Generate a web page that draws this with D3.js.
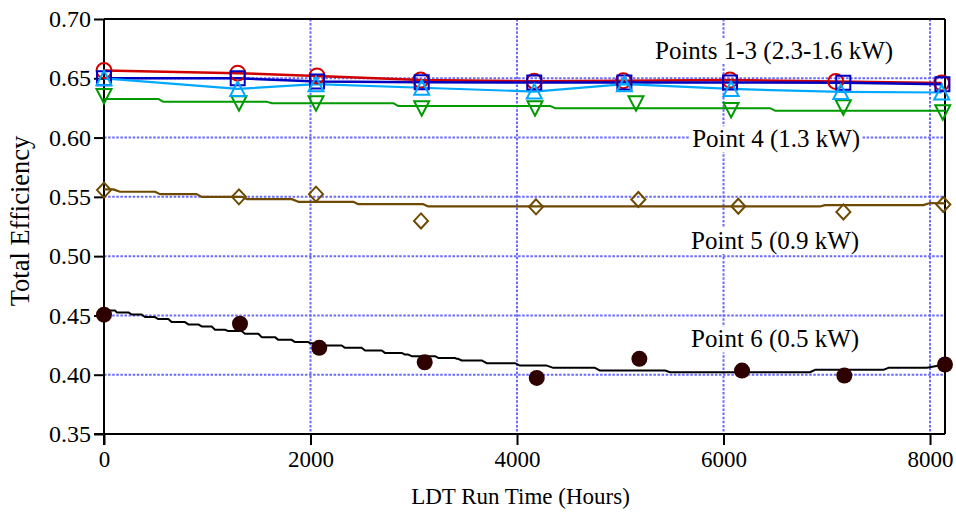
<!DOCTYPE html>
<html><head><meta charset="utf-8">
<script src="https://cdn.jsdelivr.net/npm/d3@7"></script>
<style>
html,body{margin:0;padding:0;background:#fff;}
svg{display:block;}
text{font-family:"Liberation Serif","Times New Roman",serif;fill:#000;}
</style></head>
<body>
<svg id="chart" width="956" height="514"></svg>
<script>
// ---------- data ----------
const xTicks = [0, 2000, 4000, 6000, 8000];
const yTicks = [0.35, 0.40, 0.45, 0.50, 0.55, 0.60, 0.65, 0.70];
const yGrid = [0.40, 0.45, 0.50, 0.55, 0.60, 0.65];
const xGrid = [2000, 4000, 6000, 8000];

// Points 1-3 (measured, connected)
const p1Times = [0, 1295, 2063, 3067, 4167, 5030, 6063, 7087, 8113];
const p1Values = [0.6565, 0.6543, 0.652, 0.6485, 0.6475, 0.648, 0.6485, 0.6473, 0.646];
const p2Times = [0, 1295, 2063, 3077, 4167, 5040, 6063, 7160, 8120];
const p2Values = [0.650, 0.650, 0.6473, 0.6467, 0.6465, 0.6465, 0.6465, 0.6462, 0.645];
const p3Times = [0, 1295, 2053, 3077, 4167, 5040, 6073, 7136, 8113];
const p3Values = [0.650, 0.641, 0.645, 0.642, 0.6388, 0.645, 0.641, 0.6385, 0.638];

// Point 4 measured + model
const p4Times = [0, 1307, 2053, 3077, 4174, 5152, 6073, 7160, 8123];
const p4Values = [0.635, 0.629, 0.629, 0.6248, 0.6248, 0.629, 0.6233, 0.6256, 0.6214];
const p4ModelTimes = [0, 526, 571, 1576, 1624, 2802, 2847, 4319, 4368, 6450, 6499, 8145];
const p4ModelValues = [0.6326, 0.6326, 0.6303, 0.6303, 0.629, 0.629, 0.6267, 0.6267, 0.6248, 0.6248, 0.6227, 0.6227];

// Point 5 measured + model
const p5Times = [0, 1307, 2053, 3070, 4184, 5175, 6143, 7161, 8129];
const p5Values = [0.5557, 0.550, 0.5523, 0.5297, 0.5416, 0.5478, 0.5421, 0.5373, 0.5436];
const p5ModelTimes = [0, 90, 155, 494, 542, 898, 946, 1334, 1382, 1818, 1882, 2414, 2463, 3092, 3141, 6934, 6983, 7935, 8000, 8145];
const p5ModelValues = [0.5563, 0.5563, 0.5543, 0.5543, 0.5523, 0.5523, 0.550, 0.550, 0.5481, 0.5481, 0.5458, 0.5458, 0.5438, 0.5438, 0.5419, 0.5419, 0.543, 0.543, 0.5448, 0.5445];

// Point 6 measured + model
const p6Times = [0, 1317, 2085, 3106, 4191, 5185, 6179, 7170, 8145];
const p6Values = [0.4506, 0.443, 0.4227, 0.4105, 0.3973, 0.4134, 0.4035, 0.3993, 0.4086];
const p6ModelTimes = [0,106,123,236,268,365,397,494,526,623,655,784,817,913,946,1043,1075,1172,1204,1333,1365,1495,1527,1656,1688,1817,1850,1979,1995,2108,2140,2302,2334,2495,2528,2689,2721,2883,2915,2947,2980,3205,3238,3399,3415,3431,3464,3657,3706,3980,4029,4288,4352,4755,4804,5434,5482,6838,6886,7548,7596,7968,8145];
const p6ModelValues = [0.4542,0.4542,0.4525,0.4525,0.4508,0.4508,0.4486,0.4486,0.4469,0.4469,0.4444,0.4444,0.4424,0.4424,0.4407,0.4407,0.4379,0.4379,0.4368,0.4368,0.4345,0.4345,0.4317,0.4317,0.4294,0.4294,0.4275,0.4275,0.4266,0.4266,0.4246,0.4246,0.4227,0.4227,0.4204,0.4204,0.4184,0.4184,0.4170,0.4170,0.4156,0.4156,0.4142,0.4142,0.4134,0.4134,0.4120,0.4120,0.4097,0.4097,0.4077,0.4077,0.4058,0.4058,0.4035,0.4035,0.4021,0.4021,0.4041,0.4041,0.4058,0.4058,0.4086];

const labelTexts = ["Points 1-3 (2.3-1.6 kW)", "Point 4 (1.3 kW)", "Point 5 (0.9 kW)", "Point 6 (0.5 kW)"];
const labelTimes = [6490, 6510, 6500, 6500];
const labelValues = [0.6663, 0.5918, 0.5060, 0.4230];

// ---------- layout ----------
const svg = d3.select("#chart");
const L = 104, R = 945, T = 19, B = 434;
const x = d3.scaleLinear().domain([0, 8145]).range([L, R]);
const y = d3.scaleLinear().domain([0.35, 0.70]).range([B, T]);

const gridColor = "#6a6aff";
const g = svg.append("g");

// grid
g.selectAll(".hg").data(yGrid).enter().append("line")
  .attr("x1", L).attr("x2", R).attr("y1", d => y(d)).attr("y2", d => y(d))
  .attr("stroke", gridColor).attr("stroke-width", 2).attr("stroke-dasharray", "2.5,1.6");
g.selectAll(".vg").data(xGrid).enter().append("line")
  .attr("y1", T).attr("y2", B).attr("x1", d => x(d)).attr("x2", d => x(d))
  .attr("stroke", gridColor).attr("stroke-width", 2).attr("stroke-dasharray", "2.5,1.6");

// labels with white background
const lab = g.selectAll(".lab").data(labelTexts).enter().append("g");
lab.append("text")
  .attr("x", (d, i) => x(labelTimes[i])).attr("y", (d, i) => y(labelValues[i]))
  .attr("text-anchor", "middle").attr("font-size", 25).text(d => d);
lab.each(function () {
  const t = d3.select(this).select("text");
  const bb = t.node().getBBox();
  d3.select(this).insert("rect", "text")
    .attr("x", bb.x - 2).attr("y", bb.y + 1).attr("width", bb.width + 4).attr("height", bb.height - 2)
    .attr("fill", "#fff");
});

// frame
g.append("line").attr("x1", L).attr("x2", R).attr("y1", T).attr("y2", T).attr("stroke", "#000").attr("stroke-width", 2);
g.append("line").attr("x1", R).attr("x2", R).attr("y1", T).attr("y2", B).attr("stroke", "#000").attr("stroke-width", 2);

// axes
const yAxis = d3.axisLeft(y).tickValues(yTicks).tickFormat(d3.format(".2f")).tickSize(10).tickSizeOuter(0).tickPadding(3);
const yg = svg.append("g").attr("transform", `translate(${L},0)`).call(yAxis);
const xAxis = d3.axisBottom(x).tickValues(xTicks).tickFormat(d3.format("d")).tickSize(11).tickSizeOuter(0).tickPadding(6);
const xg = svg.append("g").attr("transform", `translate(0,${B})`).call(xAxis);
[yg, xg].forEach(a => {
  a.attr("font-family", null);
  a.select(".domain").attr("stroke", "#000").attr("stroke-width", 2);
  a.selectAll(".tick line").attr("stroke", "#000").attr("stroke-width", 2);
  a.selectAll(".tick text").attr("font-family", '"Liberation Serif","Times New Roman",serif').attr("font-size", 23).attr("fill", "#000");
});
yg.selectAll(".tick text").attr("font-size", 24);
yg.select(".domain").attr("d", `M0,${T}V${B + 11}`);
xg.select(".domain").attr("d", `M${L - 10},0H${R}`);

// axis titles
svg.append("text").attr("x", (L + R) / 2 - 4).attr("y", 504).attr("text-anchor", "middle")
  .attr("font-size", 23).text("LDT Run Time (Hours)");
svg.append("text").attr("transform", "translate(29,221) rotate(-90)").attr("text-anchor", "middle")
  .attr("font-size", 26.5).text("Total Efficiency");

// ---------- series ----------
const line = d3.line().x(d => x(d[0])).y(d => y(d[1]));
const zip = (a, b) => a.map((t, i) => [t, b[i]]);

function marker(type) {
  switch (type) {
    case "circle": return "M7.5,0A7.5,7.5 0 1,1 -7.5,0A7.5,7.5 0 1,1 7.5,0Z";
    case "dot": return "M8,0A8,8 0 1,1 -8,0A8,8 0 1,1 8,0Z";
    case "square": return "M-7,-7H7V7H-7Z";
    case "up": return "M0,-7.5L7.5,7L-7.5,7Z";
    case "down": return "M0,7.5L7.5,-7L-7.5,-7Z";
    case "diamond": return "M0,-7.5L7,0L0,7.5L-7,0Z";
  }
}

const series = [
  { name: "p6", t: p6Times, v: p6Values, mt: p6ModelTimes, mv: p6ModelValues, color: "#000", mColor: "#2e0000", type: "dot", filled: true, lw: 2 },
  { name: "p5", t: p5Times, v: p5Values, mt: p5ModelTimes, mv: p5ModelValues, color: "#6e4a00", mColor: "#6e4a00", type: "diamond", lw: 2.2 },
  { name: "p4", t: p4Times, v: p4Values, mt: p4ModelTimes, mv: p4ModelValues, color: "#009a00", mColor: "#009a00", type: "down", lw: 2 },
  { name: "p1", t: p1Times, v: p1Values, mt: p1Times, mv: p1Values, color: "#d00000", mColor: "#d00000", type: "circle", lw: 2.5 },
  { name: "p2", t: p2Times, v: p2Values, mt: p2Times, mv: p2Values, color: "#0000c0", mColor: "#0000c0", type: "square", lw: 2.5 },
  { name: "p3", t: p3Times, v: p3Values, mt: p3Times, mv: p3Values, color: "#00a8ff", mColor: "#00a8ff", type: "up", lw: 2.2 }
];

series.forEach(s => {
  svg.append("path").datum(zip(s.mt, s.mv)).attr("d", line)
    .attr("fill", "none").attr("stroke", s.color).attr("stroke-width", s.lw).attr("stroke-linejoin", "round");
});
series.forEach(s => {
  svg.selectAll(".m-" + s.name).data(zip(s.t, s.v)).enter().append("path")
    .attr("d", marker(s.type))
    .attr("transform", d => `translate(${x(d[0])},${y(d[1])})`)
    .attr("fill", s.filled ? s.mColor : "none")
    .attr("stroke", s.mColor).attr("stroke-width", s.filled ? 0 : 2);
});
</script>
</body></html>
